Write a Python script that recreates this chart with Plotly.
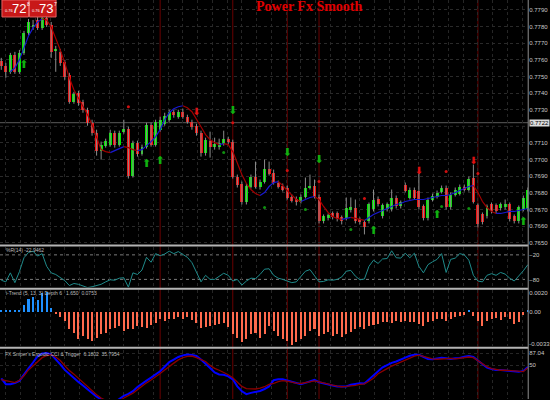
import plotly.graph_objects as go

BG = "#000000"
UP = "#00e600"
DOWN = "#f01010"
WICK = "#8c8c8c"
LINE_UP = "#1818d0"
LINE_DN = "#a00000"
SEP = "#6a0000"
LABEL = "#c8c8c8"
TINY = "Liberation Sans"

# ---- main pane: OHLC per bar ------------------------------------------------
opens = [
    0.77594, 0.77564, 0.77528, 0.77630, 0.77528, 0.77642, 0.77762, 0.77798, 0.77840, 0.77792,
    0.77852, 0.77810, 0.77654, 0.77648, 0.77588, 0.77510, 0.77348, 0.77402, 0.77348, 0.77300,
    0.77222, 0.77162, 0.77054, 0.77084, 0.77090, 0.77162, 0.77090, 0.77168, 0.77186, 0.76904,
    0.77102, 0.77036, 0.77078, 0.77210, 0.77090, 0.77180, 0.77216, 0.77240, 0.77288, 0.77258,
    0.77288, 0.77258, 0.77228, 0.77204, 0.77162, 0.77042, 0.77114, 0.77078, 0.77078, 0.77096,
    0.77126, 0.77108, 0.76898, 0.76856, 0.76742, 0.76838, 0.76898, 0.76838, 0.76868, 0.76946,
    0.76922, 0.76862, 0.76844, 0.76832, 0.76778, 0.76766, 0.76748, 0.76778, 0.76832, 0.76844,
    0.76778, 0.76628, 0.76646, 0.76676, 0.76676, 0.76652, 0.76646, 0.76694, 0.76706, 0.76640,
    0.76622, 0.76628, 0.76700, 0.76766, 0.76658, 0.76700, 0.76700, 0.76772, 0.76718, 0.76850,
    0.76772, 0.76820, 0.76814, 0.76718, 0.76646, 0.76760, 0.76778, 0.76808, 0.76832, 0.76712,
    0.76790, 0.76796, 0.76838, 0.76820, 0.76892, 0.76724, 0.76670, 0.76658, 0.76730, 0.76724,
    0.76706, 0.76712, 0.76730, 0.76658, 0.76628, 0.76700, 0.76700,
]
highs = [
    0.77612, 0.77582, 0.77642, 0.77648, 0.77660, 0.77774, 0.77846, 0.77840, 0.77858, 0.77870,
    0.77870, 0.77828, 0.77684, 0.77666, 0.77600, 0.77522, 0.77408, 0.77414, 0.77360, 0.77312,
    0.77240, 0.77180, 0.77108, 0.77126, 0.77180, 0.77174, 0.77174, 0.77240, 0.77198, 0.77114,
    0.77114, 0.77090, 0.77222, 0.77222, 0.77240, 0.77258, 0.77282, 0.77300, 0.77300, 0.77300,
    0.77306, 0.77270, 0.77240, 0.77216, 0.77174, 0.77132, 0.77168, 0.77132, 0.77126, 0.77174,
    0.77138, 0.77120, 0.76910, 0.76868, 0.76856, 0.76910, 0.76988, 0.76880, 0.77000, 0.76988,
    0.76940, 0.76874, 0.76856, 0.76844, 0.76790, 0.76778, 0.76790, 0.76892, 0.76910, 0.76880,
    0.76790, 0.76670, 0.76676, 0.76688, 0.76688, 0.76664, 0.76772, 0.76772, 0.76760, 0.76652,
    0.76634, 0.76742, 0.76820, 0.76778, 0.76736, 0.76742, 0.76820, 0.76784, 0.76754, 0.76862,
    0.76832, 0.76832, 0.76940, 0.76730, 0.76772, 0.76796, 0.76814, 0.76844, 0.76844, 0.76802,
    0.76832, 0.76850, 0.76850, 0.76898, 0.76970, 0.76736, 0.76682, 0.76730, 0.76742, 0.76736,
    0.76742, 0.76760, 0.76742, 0.76670, 0.76724, 0.76784, 0.76832,
]
lows = [
    0.77540, 0.77492, 0.77516, 0.77516, 0.77516, 0.77630, 0.77750, 0.77780, 0.77780, 0.77780,
    0.77798, 0.77612, 0.77528, 0.77564, 0.77480, 0.77336, 0.77336, 0.77324, 0.77282, 0.77204,
    0.77144, 0.77024, 0.77000, 0.77072, 0.77078, 0.77072, 0.77078, 0.77156, 0.76886, 0.76892,
    0.77018, 0.77024, 0.77066, 0.77078, 0.77078, 0.77168, 0.77204, 0.77228, 0.77252, 0.77246,
    0.77246, 0.77216, 0.77180, 0.77144, 0.77018, 0.77024, 0.77012, 0.77060, 0.77060, 0.77084,
    0.77090, 0.76886, 0.76832, 0.76730, 0.76730, 0.76826, 0.76826, 0.76820, 0.76856, 0.76904,
    0.76850, 0.76826, 0.76808, 0.76760, 0.76742, 0.76724, 0.76736, 0.76766, 0.76820, 0.76766,
    0.76616, 0.76616, 0.76634, 0.76640, 0.76628, 0.76610, 0.76634, 0.76682, 0.76616, 0.76610,
    0.76550, 0.76616, 0.76688, 0.76718, 0.76646, 0.76688, 0.76688, 0.76706, 0.76706, 0.76802,
    0.76760, 0.76760, 0.76700, 0.76634, 0.76634, 0.76748, 0.76766, 0.76796, 0.76700, 0.76700,
    0.76778, 0.76784, 0.76808, 0.76808, 0.76736, 0.76592, 0.76610, 0.76646, 0.76676, 0.76676,
    0.76694, 0.76700, 0.76628, 0.76616, 0.76616, 0.76688, 0.76688,
]
closes = [
    0.77564, 0.77528, 0.77630, 0.77528, 0.77642, 0.77762, 0.77828, 0.77810, 0.77792, 0.77852,
    0.77810, 0.77648, 0.77666, 0.77582, 0.77498, 0.77348, 0.77396, 0.77342, 0.77300, 0.77222,
    0.77162, 0.77054, 0.77090, 0.77114, 0.77162, 0.77090, 0.77162, 0.77186, 0.76904, 0.77102,
    0.77036, 0.77078, 0.77210, 0.77090, 0.77228, 0.77240, 0.77264, 0.77288, 0.77270, 0.77288,
    0.77258, 0.77228, 0.77198, 0.77162, 0.77042, 0.77120, 0.77078, 0.77096, 0.77102, 0.77126,
    0.77108, 0.76898, 0.76850, 0.76742, 0.76844, 0.76898, 0.76838, 0.76868, 0.76946, 0.76916,
    0.76862, 0.76838, 0.76820, 0.76772, 0.76754, 0.76742, 0.76778, 0.76832, 0.76838, 0.76778,
    0.76628, 0.76658, 0.76664, 0.76652, 0.76640, 0.76628, 0.76706, 0.76712, 0.76628, 0.76622,
    0.76592, 0.76730, 0.76760, 0.76730, 0.76724, 0.76730, 0.76772, 0.76718, 0.76742, 0.76814,
    0.76820, 0.76772, 0.76712, 0.76646, 0.76760, 0.76784, 0.76802, 0.76832, 0.76712, 0.76790,
    0.76820, 0.76838, 0.76820, 0.76886, 0.76748, 0.76610, 0.76622, 0.76718, 0.76688, 0.76688,
    0.76730, 0.76730, 0.76640, 0.76628, 0.76712, 0.76772, 0.76820,
]
# Power Fx Smooth line
smooth = [
    None, None, 0.77528, 0.77552, 0.77600, 0.77672, 0.77744, 0.77792, 0.77828, 0.77846,
    0.77840, 0.77798, 0.77732, 0.77660, 0.77582, 0.77492, 0.77420, 0.77372, 0.77324, 0.77270,
    0.77210, 0.77138, 0.77060, 0.77048, 0.77042, 0.77054, 0.77066, 0.77078, 0.77072, 0.77060,
    0.77054, 0.77060, 0.77084, 0.77108, 0.77138, 0.77180, 0.77240, 0.77282, 0.77306, 0.77318,
    0.77324, 0.77312, 0.77288, 0.77246, 0.77198, 0.77150, 0.77120, 0.77102, 0.77090, 0.77096,
    0.77090, 0.77048, 0.76982, 0.76910, 0.76856, 0.76820, 0.76796, 0.76784, 0.76802, 0.76838,
    0.76862, 0.76868, 0.76844, 0.76814, 0.76784, 0.76760, 0.76748, 0.76760, 0.76772, 0.76778,
    0.76760, 0.76718, 0.76682, 0.76658, 0.76646, 0.76640, 0.76646, 0.76652, 0.76646, 0.76640,
    0.76634, 0.76652, 0.76670, 0.76682, 0.76694, 0.76706, 0.76718, 0.76730, 0.76736, 0.76748,
    0.76754, 0.76760, 0.76760, 0.76760, 0.76766, 0.76772, 0.76778, 0.76784, 0.76784, 0.76790,
    0.76802, 0.76814, 0.76826, 0.76838, 0.76844, 0.76802, 0.76748, 0.76712, 0.76688, 0.76676,
    0.76676, 0.76682, 0.76688, 0.76688, 0.76694, 0.76700, 0.76706,
]
ask_level = 0.77222
price_ticks = [0.7790, 0.7780, 0.7770, 0.7760, 0.7750, 0.7740, 0.7730,
               0.7710, 0.7700, 0.7690, 0.7680, 0.7670, 0.7660, 0.7650]

# signal markers (bar index, price)
buy_arrow_bars = [5, 32, 35, 82, 96, 115]
buy_arrow_prices = [0.77570, 0.76970, 0.76988, 0.76568, 0.76664, 0.76622]
green_down_bars = [51, 63, 70]
green_down_prices = [0.77288, 0.77036, 0.76994]
sell_arrow_bars = [43, 92, 104]
sell_arrow_prices = [0.77282, 0.76928, 0.76988]
red_dot_bars = [28, 51, 63, 70, 80, 98, 105]
red_dot_prices = [0.77318, 0.77222, 0.76934, 0.76868, 0.76766, 0.76928, 0.76916]
green_dot_bars = [49, 58, 67, 77, 97, 103]
green_dot_prices = [0.77042, 0.76712, 0.76700, 0.76580, 0.76718, 0.76706]
separator_bars = [35, 51, 63, 70, 105]

# ---- pane 2: %R ------------------------------------------------------------
wpr = [
    -82, -86, -64, -88, -61, -27, -14, -11, -23, -17,
    -48, -64, -68, -75, -83, -95, -90, -92, -97, -100,
    -98, -95, -92, -86, -81, -82, -77, -76, -99, -64,
    -68, -57, -26, -38, -17, -22, -18, -11, -17, -12,
    -18, -26, -39, -64, -86, -70, -80, -80, -73, -65,
    -70, -84, -80, -94, -84, -77, -78, -68, -55, -54,
    -70, -77, -80, -84, -88, -86, -74, -60, -56, -71,
    -86, -85, -81, -82, -80, -74, -60, -58, -72, -81,
    -79, -48, -33, -41, -30, -29, -10, -27, -28, -16,
    -27, -16, -48, -64, -44, -37, -31, -17, -63, -31,
    -28, -17, -20, -33, -70, -84, -86, -70, -66, -70,
    -63, -67, -77, -84, -72, -59, -44,
]
wpr_levels = [-20, -80]

# ---- pane 3: trend histogram ---------------------------------------------
trend_hist = [
    0.0001, 0.0001, 0.0001, 0.0001, 0.0001, 0.00067, 0.00133, 0.00153, 0.0012, 0.00193,
    0.0020, 0.00043, -0.00023, -0.00047, -0.0009, -0.00173, -0.00213, -0.00267, -0.0024, -0.00273,
    -0.0029, -0.00257, -0.00223, -0.00207, -0.00173, -0.00157, -0.0014, -0.0019, -0.00173, -0.00173,
    -0.0014, -0.00147, -0.00157, -0.00133, -0.00107, -0.00073, -0.0009, -0.00067, -0.00073, -0.00047,
    -0.00073, -0.00047, -0.0008, -0.00107, -0.00157, -0.00147, -0.0014, -0.00133, -0.00123, -0.00107,
    -0.00147, -0.00223, -0.00257, -0.0030, -0.00273, -0.00223, -0.00207, -0.00257, -0.00223, -0.0014,
    -0.00187, -0.00237, -0.0027, -0.00287, -0.0033, -0.00303, -0.0027, -0.00237, -0.00187, -0.0017,
    -0.00237, -0.0022, -0.00203, -0.00237, -0.0022, -0.00253, -0.0022, -0.00203, -0.0017, -0.00153,
    -0.0017, -0.00143, -0.0013, -0.0012, -0.00103, -0.00097, -0.0011, -0.00087, -0.00097, -0.00087,
    -0.00103, -0.00097, -0.0012, -0.00143, -0.00103, -0.00087, -0.0007, -0.0007, -0.00087, -0.0007,
    -0.00053, -0.00043, -0.0003, 0.0001, -0.00043, -0.00087, -0.00143, -0.00087, -0.0007, -0.00063,
    -0.00077, -0.00053, -0.0007, -0.0012, -0.00097, -0.0003, 0.0001,
]

# ---- pane 4: ergodic CCI & trigger ---------------------------------------
ergo_cci = [
    9, -9, -9, -6, 1, 22, 40, 58, 77, 86,
    87, 83, 69, 52, 35, 22, 10, -2, -13, -25,
    -38, -48, -56, -63, -67, -65, -56, -45, -39, -31,
    -18, -7, 2, 11, 21, 31, 45, 59, 67, 75,
    80, 83, 81, 78, 67, 55, 41, 27, 21, 20,
    15, 6, -16, -31, -40, -36, -33, -30, -24, -16,
    3, 6, 6, 2, -2, -6, -9, -5, 0, 4,
    -3, -7, -10, -13, -16, -17, -16, -11, -8, -6,
    -7, 5, 20, 32, 43, 50, 57, 61, 66, 73,
    79, 82, 82, 75, 69, 68, 71, 73, 71, 69,
    71, 72, 76, 78, 75, 63, 52, 42, 38, 35,
    35, 34, 32, 30, 29, 32, 44,
]
ergo_trigger = [
    5, 2, -2, -4, 3, 17, 35, 48, 62, 73,
    79, 82, 75, 64, 48, 33, 22, 9, -5, -18,
    -32, -42, -52, -60, -66, -67, -61, -52, -44, -37,
    -26, -15, -5, 4, 13, 24, 35, 47, 56, 66,
    73, 77, 78, 73, 67, 61, 49, 40, 34, 28,
    20, 11, -4, -16, -23, -24, -24, -21, -17, -10,
    -7, -1, 2, 0, -4, -6, -7, -5, -2, 1,
    -2, -6, -9, -12, -15, -17, -16, -15, -13, -10,
    -8, 0, 9, 23, 32, 39, 47, 53, 59, 65,
    73, 78, 81, 77, 72, 69, 68, 69, 71, 71,
    69, 71, 74, 75, 73, 64, 54, 45, 39, 36,
    34, 34, 33, 32, 31, 30, 42,
]

n = len(opens)
for series in (highs, lows, closes, smooth, wpr, trend_hist, ergo_cci, ergo_trigger):
    assert len(series) == n, len(series)
bars = list(range(n))


def py(px):
    """pixel row -> paper y"""
    return 1 - px / 400


def pxx(px):
    return px / 550


fig = go.Figure()

# wicks
wx, wy = [], []
for i in bars:
    wx += [i, i, None]
    wy += [highs[i], lows[i], None]
fig.add_trace(go.Scatter(x=wx, y=wy, mode="lines", line=dict(color=WICK, width=1),
                         hoverinfo="skip", xaxis="x", yaxis="y"))

# smooth line, coloured by direction
runs = []
for i in range(1, n):
    a, b = smooth[i - 1], smooth[i]
    if a is None or b is None:
        continue
    col = LINE_UP if b >= a else LINE_DN
    if runs and runs[-1][0] == col and runs[-1][1][-1] == i - 1:
        runs[-1][1].append(i)
        runs[-1][2].append(b)
    else:
        runs.append((col, [i - 1, i], [a, b]))
for col in (LINE_UP, LINE_DN):
    xs, ys = [], []
    for c, rx, ry in runs:
        if c == col:
            xs += rx + [None]
            ys += ry + [None]
    fig.add_trace(go.Scatter(x=xs, y=ys, mode="lines", line=dict(color=col, width=1.2),
                             hoverinfo="skip", xaxis="x", yaxis="y"))

# bodies
body_base = [min(o, c) for o, c in zip(opens, closes)]
body_len = [max(abs(c - o), 0.00005) for o, c in zip(opens, closes)]
body_col = [UP if c >= o else DOWN for o, c in zip(opens, closes)]
fig.add_trace(go.Bar(x=bars, y=body_len, base=body_base, width=0.66,
                     marker=dict(color=body_col, line=dict(width=0)),
                     xaxis="x", yaxis="y"))


# signal markers
def glyphs(xs, ys, text, color, size):
    fig.add_trace(go.Scatter(x=xs, y=ys, mode="text", text=[text] * len(xs),
                             textfont=dict(color=color, size=size, family="DejaVu Sans"),
                             hoverinfo="skip", xaxis="x", yaxis="y"))


glyphs(buy_arrow_bars, buy_arrow_prices, "⬆", "#10b010", 11)
glyphs(green_down_bars, green_down_prices, "⬇", "#10b010", 11)
glyphs(sell_arrow_bars, sell_arrow_prices, "⬇", "#e01010", 10)
fig.add_trace(go.Scatter(x=red_dot_bars, y=red_dot_prices, mode="markers",
                         marker=dict(color="#d01010", size=3), xaxis="x", yaxis="y"))
fig.add_trace(go.Scatter(x=green_dot_bars, y=green_dot_prices, mode="markers",
                         marker=dict(color="#109010", size=3), xaxis="x", yaxis="y"))

# pane 2
fig.add_trace(go.Scatter(x=bars, y=wpr, mode="lines", line=dict(color="#1f8a8a", width=1),
                         xaxis="x2", yaxis="y2"))
# pane 3
hist_col = ["#1e90ff" if v > 0 else "#ff6a4d" for v in trend_hist]
fig.add_trace(go.Bar(x=bars, y=trend_hist, width=0.45,
                     marker=dict(color=hist_col, line=dict(width=0)),
                     xaxis="x3", yaxis="y3"))
# pane 4
fig.add_trace(go.Scatter(x=bars, y=ergo_cci, mode="lines", line=dict(color="#0000ff", width=2),
                         xaxis="x4", yaxis="y4"))
fig.add_trace(go.Scatter(x=bars, y=ergo_trigger, mode="lines", line=dict(color="#8b0000", width=1.3),
                         xaxis="x4", yaxis="y4"))

x_dom = [0, 537 / 550]
x_rng = [-0.28, 116.08]
x_style = dict(domain=x_dom, range=x_rng, showticklabels=False, ticks="", zeroline=False,
               showline=False, showgrid=True, gridcolor="#262626", griddash="dot",
               tick0=40, dtick=3.25)
y_style = dict(side="right", ticks="", zeroline=False, showline=False,
               tickfont=dict(family=TINY, size=6, color=LABEL))

fig.update_layout(
    width=550, height=400,
    margin=dict(l=0, r=0, t=0, b=0),
    paper_bgcolor=BG, plot_bgcolor=BG,
    showlegend=False, barmode="overlay", bargap=0,
    xaxis=dict(anchor="y", **x_style),
    xaxis2=dict(anchor="y2", matches="x", **x_style),
    xaxis3=dict(anchor="y3", matches="x", **x_style),
    xaxis4=dict(anchor="y4", matches="x", **x_style),
    yaxis=dict(anchor="x", domain=[py(245), 1], range=[0.7649, 0.7796],
               tickvals=price_ticks, tickformat=".4f",
               showgrid=True, gridcolor="#2a2a2a", griddash="dot", **y_style),
    yaxis2=dict(anchor="x2", domain=[py(288.3), py(247.3)], range=[-100, 0],
                tickvals=[-20, -80], showgrid=False, **y_style),
    yaxis3=dict(anchor="x3", domain=[py(347), py(291)], range=[-0.0034, 0.0022],
                tickvals=[0.0019, 0, -0.0032], ticktext=["0.0020", "0.00", "-0.0033"],
                showgrid=False, **y_style),
    yaxis4=dict(anchor="x4", domain=[0, py(351)], range=[-55, 96.3],
                tickvals=[87.04, 50], ticktext=["87.04", "50"],
                showgrid=True, gridcolor="#262626", griddash="dot", **y_style),
)

shapes = []
for b in separator_bars:
    shapes.append(dict(type="line", xref="x", yref="paper", x0=b, x1=b, y0=0, y1=1,
                       line=dict(color=SEP, width=1), layer="below"))
for lv in wpr_levels:
    shapes.append(dict(type="line", xref="x2", yref="y2", x0=x_rng[0], x1=x_rng[1], y0=lv, y1=lv,
                       line=dict(color="#7a7a7a", width=1, dash="dot"), layer="below"))
shapes.append(dict(type="line", xref="x", yref="y", x0=x_rng[0], x1=x_rng[1], y0=ask_level, y1=ask_level,
                   line=dict(color="#5a5a5a", width=1), layer="below"))
shapes.append(dict(type="line", xref="x", yref="y", x0=x_rng[0], x1=x_rng[1], y0=0.7720, y1=0.7720,
                   line=dict(color="#2a2a2a", width=1, dash="dot"), layer="below"))
for yy in (246, 289.5, 348.5):
    shapes.append(dict(type="line", xref="paper", yref="paper", x0=0, x1=x_dom[1], y0=py(yy), y1=py(yy),
                       line=dict(color="#b4b4b4", width=2)))
shapes.append(dict(type="line", xref="paper", yref="paper", x0=x_dom[1], x1=x_dom[1], y0=0, y1=1,
                   line=dict(color="#909090", width=1)))
for x0, x1 in ((2, 29), (30, 57)):
    shapes.append(dict(type="rect", xref="paper", yref="paper", x0=pxx(x0), x1=pxx(x1), y0=py(17), y1=py(0),
                       fillcolor="#c81818", line=dict(color="#e86060", width=1)))
fig.update_layout(shapes=shapes)

box_font = dict(family="Liberation Sans Narrow, Liberation Sans", color="#ffffff")
annos = [
    dict(x=pxx(370), y=py(7), text="<b>Power Fx Smooth</b>",
         font=dict(family="Liberation Serif", size=14, color="#e00000")),
    dict(x=pxx(3), y=py(11), xanchor="left", text="0.76", font=dict(size=4, **box_font)),
    dict(x=pxx(10), y=py(9), xanchor="left", text="72", font=dict(size=13, **box_font)),
    dict(x=pxx(25), y=py(4.5), xanchor="left", text="8", font=dict(size=5, **box_font)),
    dict(x=pxx(31), y=py(11), xanchor="left", text="0.76", font=dict(size=4, **box_font)),
    dict(x=pxx(38), y=py(9), xanchor="left", text="73", font=dict(size=13, **box_font)),
    dict(x=pxx(53), y=py(4.5), xanchor="left", text="7", font=dict(size=5, **box_font)),
    dict(x=pxx(4), y=py(250.5), xanchor="left", text="%R(14) -22.9462",
         font=dict(family=TINY, size=5, color="#bdbdbd")),
    dict(x=pxx(4), y=py(294), xanchor="left", text="i-Trend (5, 13, 3) Depth 6   1.650  0.0753",
         font=dict(family=TINY, size=5, color="#bdbdbd")),
    dict(x=pxx(3), y=py(354.5), xanchor="left",
         text="FX Sniper's Ergodic CCI & Trigger  6.1802  35.7954",
         font=dict(family=TINY, size=5, color="#bdbdbd")),
    dict(x=pxx(538), y=ask_level, yref="y", xanchor="left", text="0.7722",
         bgcolor="#dcdcdc", borderpad=0, font=dict(family=TINY, size=6, color="#000000")),
]
for a in annos:
    a.setdefault("xref", "paper")
    a.setdefault("yref", "paper")
    a.setdefault("yanchor", "middle")
    a.setdefault("showarrow", False)
fig.update_layout(annotations=annos)

fig.write_html("out.html", config={"displayModeBar": False},
               post_script="document.body.style.margin='0';")
